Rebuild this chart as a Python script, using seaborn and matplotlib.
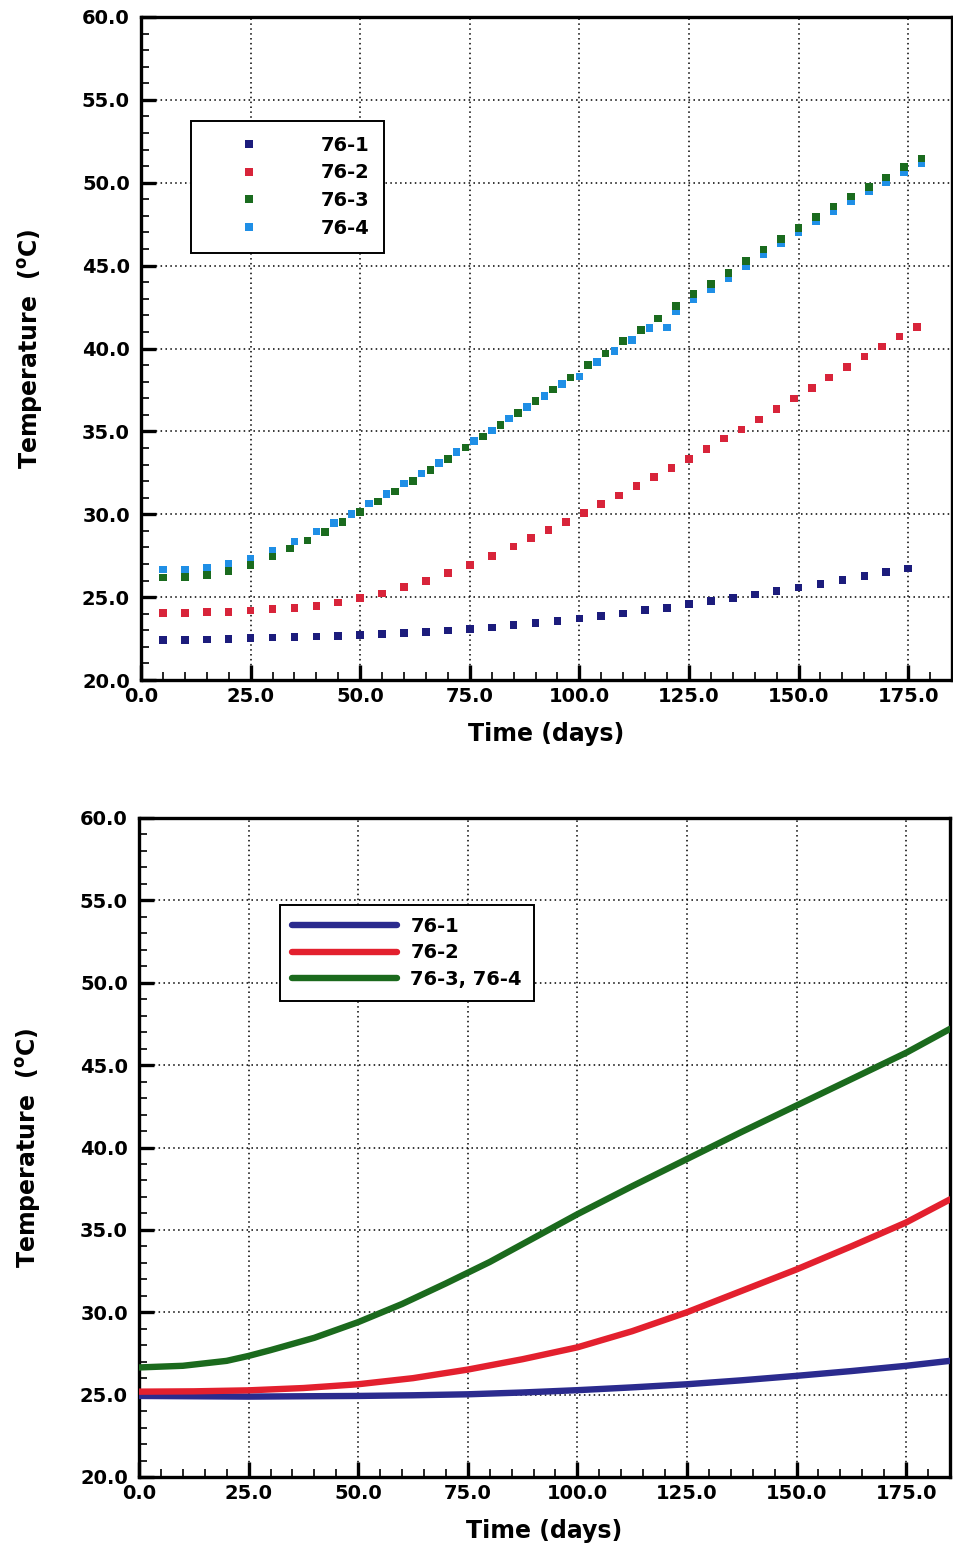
import matplotlib
matplotlib.use("Agg")
import matplotlib.pyplot as plt
import numpy as np
import pandas as pd
import seaborn as sns
from matplotlib.ticker import MultipleLocator, FormatStrFormatter

# ---------------- data: measured points (top panel) ----------------
days_76_1 = [5, 10, 15, 20, 25, 30, 35, 40, 45, 50, 55, 60, 65, 70, 75, 80, 85, 90,
             95, 100, 105, 110, 115, 120, 125, 130, 135, 140, 145, 150, 155, 160, 165, 170, 175]
temp_76_1 = [22.40, 22.42, 22.44, 22.48, 22.52, 22.56, 22.60, 22.62, 22.64, 22.72, 22.76, 22.82,
             22.90, 22.98, 23.08, 23.16, 23.32, 23.44, 23.57, 23.72, 23.86, 24.02, 24.22, 24.34,
             24.57, 24.75, 24.95, 25.15, 25.37, 25.57, 25.81, 26.03, 26.26, 26.50, 26.72]

days_76_2 = [5, 10, 15, 20, 25, 30, 35, 40, 45, 50, 55, 60, 65, 70, 75, 80, 85,
             89, 93, 97, 101, 105, 109, 113, 117, 121, 125, 129, 133, 137, 141, 145, 149,
             153, 157, 161, 165, 169, 173, 177]
temp_76_2 = [24.03, 24.05, 24.09, 24.11, 24.19, 24.27, 24.35, 24.46, 24.67, 24.94, 25.22, 25.62,
             25.99, 26.45, 26.95, 27.48, 28.05,
             28.55, 29.05, 29.54, 30.06, 30.61, 31.13, 31.70, 32.24, 32.80, 33.35, 33.95, 34.56,
             35.12, 35.72, 36.35, 36.99, 37.62, 38.26, 38.89, 39.51, 40.13, 40.72, 41.31]

days_76_3 = [5, 10, 15, 20, 25, 30, 34, 38, 42, 46, 50, 54, 58, 62, 66, 70, 74, 78, 82, 86, 90,
             94, 98, 102, 106, 110, 114, 118, 122, 126, 130, 134, 138, 142, 146, 150, 154, 158,
             162, 166, 170, 174, 178]
temp_76_3 = [26.19, 26.21, 26.33, 26.59, 26.94, 27.44, 27.94, 28.41, 28.93, 29.54, 30.15, 30.77,
             31.37, 32.00, 32.67, 33.33, 34.02, 34.70, 35.39, 36.12, 36.82, 37.53, 38.24, 39.00,
             39.71, 40.44, 41.13, 41.82, 42.55, 43.28, 43.89, 44.57, 45.28, 45.98, 46.62, 47.28,
             47.94, 48.56, 49.16, 49.74, 50.32, 50.94, 51.47]

days_76_4 = [5, 10, 15, 20, 25, 30, 35, 40, 44, 48, 52, 56, 60, 64, 68, 72, 76, 80, 84, 88, 92,
             96, 100, 104, 108, 112, 116, 120, 122, 126, 130, 134, 138, 142, 146, 150, 154, 158,
             162, 166, 170, 174, 178]
temp_76_4 = [26.67, 26.67, 26.75, 26.99, 27.33, 27.80, 28.36, 28.95, 29.46, 30.00, 30.65, 31.22,
             31.86, 32.47, 33.11, 33.76, 34.41, 35.05, 35.78, 36.47, 37.15, 37.84, 38.30, 39.17,
             39.85, 40.50, 41.23, 41.27, 42.26, 42.97, 43.56, 44.23, 44.94, 45.70, 46.34, 47.02,
             47.68, 48.30, 48.88, 49.48, 50.04, 50.66, 51.20]

# ---------------- data: model curves (bottom panel) ----------------
days_m1 = [0, 12.5, 25, 37.5, 50, 62.5, 75, 87.5, 100, 112.5, 125, 137.5, 150, 162.5, 175, 185]
temp_m1 = [24.92, 24.90, 24.88, 24.90, 24.92, 24.96, 25.02, 25.13, 25.27, 25.44, 25.63, 25.87,
           26.14, 26.43, 26.75, 27.05]
days_m2 = [0, 12.5, 25, 37.5, 50, 62.5, 75, 87.5, 100, 112.5, 125, 137.5, 150, 162.5, 175, 185]
temp_m2 = [25.18, 25.20, 25.26, 25.40, 25.63, 26.00, 26.52, 27.15, 27.87, 28.85, 30.00, 31.30,
           32.60, 34.00, 35.45, 36.85]
days_m3 = [0, 10, 20, 25, 30, 40, 50, 60, 70, 80, 90, 100, 112.5, 125, 137.5, 150, 162.5, 175, 185]
temp_m3 = [26.65, 26.75, 27.05, 27.35, 27.70, 28.45, 29.40, 30.50, 31.75, 33.05, 34.50, 35.95,
           37.65, 39.30, 40.95, 42.55, 44.15, 45.75, 47.20]

labels_top = ["76-1", "76-2", "76-3", "76-4"]
labels_bot = ["76-1", "76-2", "76-3, 76-4"]

colors_top = {"76-1": "#1c1c7c", "76-2": "#d8243a", "76-3": "#1a6b1e", "76-4": "#1f8fe6"}
colors_bot = {"76-1": "#2b2b8e", "76-2": "#e3202e", "76-3, 76-4": "#1b6a1d"}

# long tables (76-3 last so it is drawn on top, as in the reference)
df_pts = pd.concat([
    pd.DataFrame({"day": days_76_1, "temp": temp_76_1, "series": "76-1"}),
    pd.DataFrame({"day": days_76_2, "temp": temp_76_2, "series": "76-2"}),
    pd.DataFrame({"day": days_76_4, "temp": temp_76_4, "series": "76-4"}),
    pd.DataFrame({"day": days_76_3, "temp": temp_76_3, "series": "76-3"}),
], ignore_index=True)
df_mod = pd.concat([
    pd.DataFrame({"day": days_m1, "temp": temp_m1, "series": "76-1"}),
    pd.DataFrame({"day": days_m2, "temp": temp_m2, "series": "76-2"}),
    pd.DataFrame({"day": days_m3, "temp": temp_m3, "series": "76-3, 76-4"}),
], ignore_index=True)

sns.set_style("white")
plt.rcParams["font.family"] = ["DejaVu Sans"]
plt.rcParams["font.weight"] = "bold"
plt.rcParams["axes.labelweight"] = "bold"
plt.rcParams["text.color"] = "black"
plt.rcParams["axes.labelcolor"] = "black"
plt.rcParams["xtick.color"] = "black"
plt.rcParams["ytick.color"] = "black"
plt.rcParams["xtick.labelcolor"] = "black"
plt.rcParams["ytick.labelcolor"] = "black"

fig = plt.figure(figsize=(9.54, 15.55), dpi=100)
W, H = 954.0, 1555.0
ax1 = fig.add_axes([141 / W, 1 - 680 / H, (952 - 141) / W, (680 - 17) / H])
ax2 = fig.add_axes([139 / W, 1 - 1477 / H, (950 - 139) / W, (1477 - 818) / H])

sns.scatterplot(data=df_pts, x="day", y="temp", hue="series", hue_order=labels_top,
                palette=colors_top, marker="s", s=30, linewidth=0, ax=ax1, zorder=3)
sns.lineplot(data=df_mod, x="day", y="temp", hue="series", hue_order=labels_bot,
             palette=colors_bot, linewidth=4.6, ax=ax2, zorder=3, sort=True)

ylabel = r"Temperature  ($^{\mathbf{o}}$C)"
for ax in (ax1, ax2):
    ax.set_xlim(0, 185)
    ax.set_ylim(20, 60)
    ax.xaxis.set_major_locator(MultipleLocator(25))
    ax.xaxis.set_minor_locator(MultipleLocator(5))
    ax.yaxis.set_major_locator(MultipleLocator(5))
    ax.yaxis.set_minor_locator(MultipleLocator(1))
    ax.xaxis.set_major_formatter(FormatStrFormatter("%.1f"))
    ax.yaxis.set_major_formatter(FormatStrFormatter("%.1f"))
    ax.tick_params(axis="both", which="major", direction="in", length=11, width=2.4,
                   labelsize=14, colors="black", labelcolor="black",
                   bottom=True, left=True, top=False, right=False)
    ax.tick_params(axis="both", which="minor", direction="in", length=6, width=1.2,
                   colors="black", bottom=True, left=True, top=False, right=False)
    ax.tick_params(axis="x", which="major", pad=5)
    ax.tick_params(axis="y", which="major", pad=8)
    for lab in ax.get_xticklabels() + ax.get_yticklabels():
        lab.set_fontweight("bold")
    for sp in ax.spines.values():
        sp.set_visible(True)
        sp.set_linewidth(2.4)
        sp.set_color("black")
    ax.grid(True, which="major", color="black", linestyle=(0, (1, 2.2)), linewidth=1.1)
    ax.set_axisbelow(True)
    ax.set_xlabel("Time (days)", fontsize=17, fontweight="bold", color="black")
    ax.set_ylabel(ylabel, fontsize=17, fontweight="bold", color="black")
    ax.yaxis.set_label_coords(-0.118, 0.5)
    ax.xaxis.set_label_coords(0.5, -0.063)
    ax.xaxis.label.set_va("top")

# legends
h1, l1 = ax1.get_legend_handles_labels()
leg1 = ax1.legend(h1, l1, loc="upper left", bbox_to_anchor=(0.062, 0.843), borderaxespad=0,
                  fontsize=14, frameon=True, fancybox=False, framealpha=1, edgecolor="black",
                  handlelength=4.4, handletextpad=1.5, borderpad=0.75, labelspacing=0.45,
                  markerscale=1.0)
leg1.get_frame().set_linewidth(1.4)
for t in leg1.get_texts():
    t.set_color("black")

h2, l2 = ax2.get_legend_handles_labels()
for h in h2:
    h.set_linewidth(4.6)
leg2 = ax2.legend(h2, l2, loc="upper left", bbox_to_anchor=(0.174, 0.868), borderaxespad=0,
                  fontsize=14, frameon=True, fancybox=False, framealpha=1, edgecolor="black",
                  handlelength=5.4, handletextpad=0.7, borderpad=0.6, labelspacing=0.4)
leg2.get_frame().set_linewidth(1.4)
for t in leg2.get_texts():
    t.set_color("black")

fig.savefig("out.png", dpi=100)
